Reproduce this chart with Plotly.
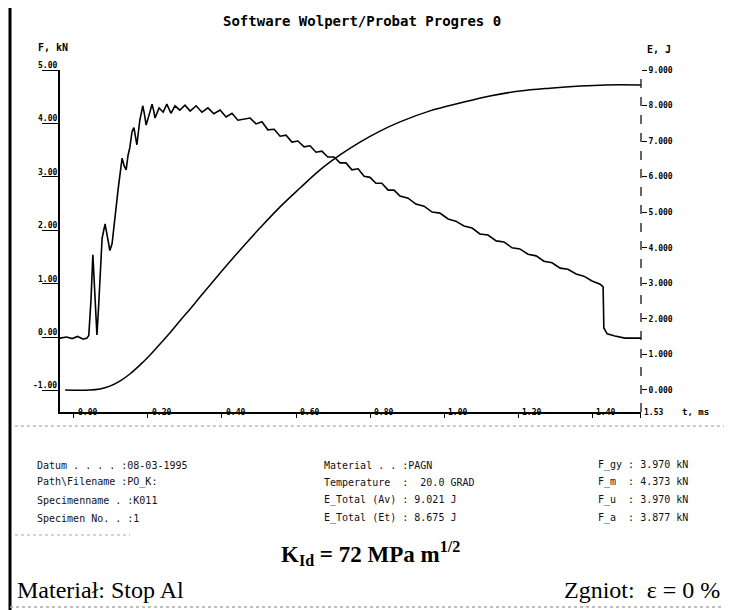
import plotly.graph_objects as go

# ---------------- data ----------------
t_force = [-0.038, -0.020, -0.005, 0.010, 0.025, 0.035, 0.040, 0.046, 0.051, 0.055, 0.059, 0.062,
           0.066, 0.071, 0.076, 0.084, 0.090, 0.097, 0.103, 0.108, 0.119, 0.130, 0.136, 0.141,
           0.146, 0.151, 0.157, 0.162, 0.167, 0.170, 0.178, 0.186, 0.191, 0.195, 0.203, 0.211,
           0.216, 0.219, 0.230, 0.241, 0.251, 0.262, 0.273, 0.286, 0.300, 0.314, 0.330, 0.346,
           0.362, 0.378, 0.395, 0.411, 0.427, 0.443, 0.476, 0.492, 0.508, 0.524, 0.541, 0.557,
           0.573, 0.589, 0.605, 0.622, 0.638, 0.654, 0.670, 0.686, 0.703, 0.719, 0.735, 0.751,
           0.768, 0.784, 0.800, 0.816, 0.832, 0.849, 0.865, 0.881, 0.903, 0.924, 0.946, 0.968,
           0.989, 1.011, 1.032, 1.054, 1.076, 1.097, 1.119, 1.141, 1.162, 1.184, 1.205, 1.227,
           1.249, 1.270, 1.292, 1.314, 1.335, 1.357, 1.378, 1.400, 1.422, 1.430, 1.432, 1.441,
           1.462, 1.489, 1.532]
force_kN = [-0.02, 0.00, -0.03, 0.01, -0.04, -0.02, 0.03, 0.70, 1.54, 1.00, 0.30, 0.04,
            0.50, 1.30, 1.85, 2.12, 1.90, 1.62, 1.75, 2.10, 2.75, 3.35, 3.20, 3.13,
            3.40, 3.55, 3.85, 3.92, 3.70, 3.60, 4.06, 4.33, 4.15, 3.97, 4.16, 4.36,
            4.22, 4.10, 4.29, 4.21, 4.36, 4.19, 4.33, 4.25, 4.34, 4.23, 4.33, 4.21,
            4.29, 4.18, 4.25, 4.12, 4.19, 4.06, 4.10, 3.99, 4.03, 3.88, 3.89, 3.76,
            3.78, 3.65, 3.67, 3.56, 3.58, 3.46, 3.48, 3.37, 3.37, 3.26, 3.26, 3.13,
            3.15, 3.01, 2.99, 2.88, 2.88, 2.75, 2.75, 2.64, 2.60, 2.49, 2.45, 2.34,
            2.32, 2.21, 2.17, 2.08, 2.04, 1.93, 1.91, 1.80, 1.78, 1.67, 1.65, 1.55,
            1.52, 1.42, 1.39, 1.29, 1.27, 1.18, 1.14, 1.05, 0.99, 0.94, 0.17, 0.06,
            0.02, -0.02, -0.02]

t_energy = [-0.024, 0.043, 0.070, 0.097, 0.124, 0.151, 0.178, 0.205, 0.232, 0.259, 0.286,
            0.314, 0.341, 0.395, 0.449, 0.503, 0.557, 0.611, 0.665, 0.719, 0.773, 0.827,
            0.881, 0.962, 1.043, 1.124, 1.205, 1.286, 1.368, 1.435, 1.532]
energy_J = [0.00, 0.00, 0.03, 0.11, 0.25, 0.45, 0.70, 0.98, 1.29, 1.60, 1.94,
            2.28, 2.62, 3.29, 3.94, 4.56, 5.15, 5.68, 6.19, 6.61, 6.97, 7.28,
            7.54, 7.85, 8.07, 8.27, 8.41, 8.49, 8.55, 8.58, 8.58]

x_ticks = [0.0, 0.2, 0.4, 0.6, 0.8, 1.0, 1.2, 1.4, 1.53]
x_tick_labels = ["0.00", "0.20", "0.40", "0.60", "0.80", "1.00", "1.20", "1.40", "1.53"]
f_ticks = [5, 4, 3, 2, 1, 0, -1]
f_tick_labels = ["5.00", "4.00", "3.00", "2.00", "1.00", "0.00", "-1.00"]
e_ticks = [0, 1, 2, 3, 4, 5, 6, 7, 8, 9]
e_tick_labels = ["0.000", "1.000", "2.000", "3.000", "4.000", "5.000", "6.000", "7.000", "8.000", "9.000"]

info_col1 = ["Datum . . . . :08-03-1995", "Path\\Filename :PO_K:", "Specimenname . :K011", "Specimen No. . :1"]
info_col2 = ["Material . . :PAGN", "Temperature  :  20.0 GRAD", "E_Total (Av) : 9.021 J", "E_Total (Et) : 8.675 J"]
info_col3 = ["F_gy : 3.970 kN", "F_m  : 4.373 kN", "F_u  : 3.970 kN", "F_a  : 3.877 kN"]

# ---------------- layout helpers (page pixel -> paper) ----------------
OFF = 8                     # default body margin of the html page
L, R, T, B = 60, 641, 70, 412
W, H = 732, 610


def px(x):
    return (x - L) / (R - L)


def py(y):
    return (B - y) / (B - T)


MONO = "DejaVu Sans Mono"
SERIF = "Liberation Serif"

fig = go.Figure()
fig.add_trace(go.Scatter(x=t_force, y=force_kN, mode="lines",
                         line=dict(color="black", width=1.6), yaxis="y", showlegend=False))
fig.add_trace(go.Scatter(x=t_energy, y=energy_J, mode="lines", line_shape="spline",
                         line=dict(color="black", width=1.5), yaxis="y2", showlegend=False))

ann = []
for v, s in zip(f_ticks, f_tick_labels):
    ann.append(dict(x=0, xref="paper", y=v, yref="y", text="<b>" + s + "</b>", showarrow=False,
                    xanchor="right", yanchor="bottom", xshift=-1, yshift=-2,
                    font=dict(family=MONO, size=8, color="black")))
for v, s in zip(x_ticks, x_tick_labels):
    ann.append(dict(x=v, xref="x", y=0, yref="paper", text="<b>" + s + "</b>", showarrow=False,
                    xanchor="left", yanchor="middle", xshift=2,
                    font=dict(family=MONO, size=8, color="black")))

ann += [
    dict(x=px(362), y=py(21), text="<b>Software Wolpert/Probat Progres 0</b>", xanchor="center",
         font=dict(family=MONO, size=14, color="black")),
    dict(x=px(36), y=py(47), text="<b>F, kN</b>", xanchor="left",
         font=dict(family=MONO, size=10, color="black")),
    dict(x=px(645), y=py(50), text="<b>E, J</b>", xanchor="left",
         font=dict(family=MONO, size=10, color="black")),
    dict(x=px(680), y=py(412), text="<b>t, ms</b>", xanchor="left",
         font=dict(family=MONO, size=9, color="black")),
    dict(x=px(370), y=py(553), text="<b>K<sub>Id</sub> = 72 MPa m<sup>1/2</sup></b>", xanchor="center",
         font=dict(family=SERIF, size=23, color="black")),
    dict(x=px(15), y=py(590), text="Materiał: Stop Al", xanchor="left",
         font=dict(family=SERIF, size=24, color="black")),
    dict(x=px(722), y=py(590), text="Zgniot:  ε = 0 %", xanchor="right",
         font=dict(family=SERIF, size=24, color="black")),
]
rows = [465, 482, 500, 518]
for col, x0 in ((info_col1, 35), (info_col2, 322), (info_col3, 596)):
    for s, y0 in zip(col, rows):
        ann.append(dict(x=px(x0), y=py(y0), text=s, xanchor="left",
                        font=dict(family=MONO, size=10, color="#111")))
for a in ann:
    a.setdefault("xref", "paper")
    a.setdefault("yref", "paper")
    a.setdefault("yanchor", "middle")
    a.setdefault("showarrow", False)

shapes = [
    dict(type="line", xref="paper", yref="paper", x0=1, x1=1, y0=0, y1=1,
         line=dict(color="black", width=1.2, dash="dash")),
    dict(type="line", xref="paper", yref="paper", x0=px(10), x1=px(10), y0=py(0), y1=py(610),
         line=dict(color="black", width=3)),
    dict(type="line", xref="paper", yref="paper", x0=px(10), x1=px(732), y0=py(3), y1=py(3),
         line=dict(color="#777", width=2, dash="dot")),
    dict(type="line", xref="paper", yref="paper", x0=px(10), x1=px(732), y0=py(607), y1=py(607),
         line=dict(color="#aaa", width=1.5, dash="dot")),
    dict(type="line", xref="paper", yref="paper", x0=px(15), x1=px(730), y0=py(426), y1=py(426),
         line=dict(color="#999", width=1, dash="dot")),
    dict(type="line", xref="paper", yref="paper", x0=px(15), x1=px(130), y0=py(535), y1=py(535),
         line=dict(color="#aaa", width=1, dash="dot")),
]

fig.update_layout(
    width=W - OFF, height=H - OFF,
    margin=dict(l=L - OFF, r=W - R, t=T - OFF, b=H - B, pad=0),
    paper_bgcolor="white", plot_bgcolor="white",
    showlegend=False,
    xaxis=dict(range=[-0.0378, 1.5324], showgrid=False, zeroline=False,
               showline=True, linecolor="black", linewidth=1.5,
               tickvals=x_ticks, ticks="outside", ticklen=4, tickwidth=1.2, tickcolor="black",
               showticklabels=False, fixedrange=True),
    yaxis=dict(range=[-1.404, 5], showgrid=False, zeroline=False,
               showline=True, linecolor="black", linewidth=1.5,
               tickvals=f_ticks, ticks="outside", ticklen=16, tickwidth=1.2, tickcolor="black",
               showticklabels=False, fixedrange=True),
    yaxis2=dict(range=[-0.619, 9], overlaying="y", side="right", showgrid=False, zeroline=False,
                showline=False,
                tickvals=e_ticks, ticktext=["<b>" + s + "</b>" for s in e_tick_labels],
                ticks="outside", ticklen=5, tickwidth=1.2, tickcolor="black",
                tickfont=dict(family=MONO, size=8, color="black"), fixedrange=True),
    annotations=ann,
    shapes=shapes,
)

fig.write_html("out.html")
